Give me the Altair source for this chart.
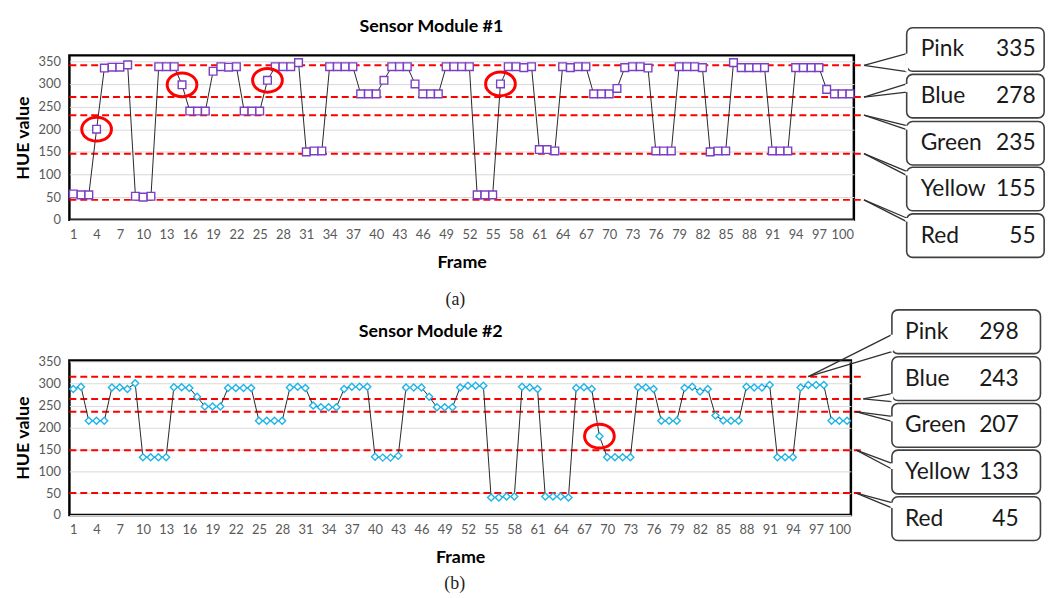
import altair as alt
import pandas as pd

# ---------------- data ----------------
frames = list(range(1, 102))

hue_1 = [57, 55, 55, 200, 335, 337, 337, 342, 52, 50,
         52, 338, 338, 338, 298, 240, 240, 240, 328, 338,
         337, 338, 240, 240, 240, 308, 338, 338, 338, 347,
         150, 152, 152, 338, 338, 338, 338, 278, 278, 278,
         308, 338, 338, 338, 300, 278, 278, 278, 338, 338,
         338, 338, 55, 55, 55, 300, 338, 338, 336, 338,
         155, 155, 152, 338, 336, 338, 338, 278, 278, 278,
         290, 336, 338, 338, 335, 152, 152, 152, 338, 338,
         338, 336, 150, 152, 152, 347, 336, 336, 336, 336,
         152, 152, 152, 336, 336, 336, 336, 288, 278, 278,
         278]

hue_2 = [288, 293, 215, 215, 215, 291, 291, 288, 301, 132,
         132, 132, 132, 292, 292, 290, 270, 248, 248, 248,
         290, 290, 290, 290, 215, 215, 215, 215, 291, 293,
         290, 250, 246, 246, 246, 288, 293, 293, 293, 133,
         131, 131, 135, 291, 291, 291, 270, 246, 246, 246,
         291, 295, 295, 295, 40, 40, 42, 42, 293, 291,
         288, 42, 42, 42, 40, 290, 292, 288, 180, 132,
         132, 132, 132, 292, 291, 288, 215, 215, 215, 290,
         293, 282, 288, 227, 216, 215, 215, 293, 291, 291,
         297, 132, 132, 132, 291, 297, 297, 297, 215, 215,
         215]

color_names = ["Pink", "Blue", "Green", "Yellow", "Red"]
ref_1 = [335, 278, 235, 155, 55]
ref_2 = [298, 243, 207, 133, 45]
level_1 = [341, 271, 231, 146, 44]     # dashed reference lines as drawn
level_2 = [316, 265, 236, 148, 50]
circled_1 = [4, 15, 26, 56]
circled_2 = [69]
x_ticks = list(range(1, 101, 3))
y_ticks = list(range(0, 351, 50))

# ---------------- layout (annotation geometry, in axis units) ----------------
lay_1 = dict(
    width=792, height=166, ymax=363, line_end=102.8,
    box_x0=108.3, box_x1=126.0, box_top=[424, 321, 217, 116, 13], box_h=96,
    tip_x=[102.8] * 5, att1=[367, 300, 208, 107, 4], att2=[327, 282, 199, 98, -4],
    name_x=110.1, val_x=124.9, label_x=50.2, label_dy=247,
    title_x=47.1, title_dy=-29,
)
lay_2 = dict(
    width=789, height=156, ymax=353, line_end=103.3,
    box_x0=106.8, box_x1=126.0, box_top=[468.6, 361.5, 254.8, 148.2, 41.6], box_h=100,
    tip_x=[96.0, 103.1, 102.1, 102.2, 102.2], att1=[412, 277, 225, 118, 28],
    att2=[373, 259, 214, 105, 16],
    name_x=108.5, val_x=123.2, label_x=50.3, label_dy=226,
    title_x=47.2, title_dy=-29,
)

FONT = "Lato"
ELLIPSE = "M -1.25 0 A 1.25 1 0 1 1 1.25 0 A 1.25 1 0 1 1 -1.25 0 Z"


def panel(hue, levels, refs, circled, title, label, lay, mcolor, mshape, msize):
    xs = alt.Scale(domain=[0.5, 101.5], nice=False, zero=False)
    ys = alt.Scale(domain=[0, lay["ymax"]], nice=False, zero=False)
    xa = alt.Axis(values=x_ticks, title="Frame", grid=False, ticks=False, domain=False,
                  labelFont=FONT, labelFontSize=13, labelColor="#595959", labelPadding=9,
                  labelFlush=False, labelOverlap=False, labelAngle=0,
                  titleFont=FONT, titleFontSize=18, titleFontWeight="bold",
                  titleColor="#000000", titlePadding=12)
    ya = alt.Axis(values=y_ticks, title="HUE value", grid=True, gridColor="#D9D9D9",
                  gridWidth=1, ticks=False, domain=False,
                  labelFont=FONT, labelFontSize=13, labelColor="#595959", labelPadding=9,
                  titleFont=FONT, titleFontSize=18, titleFontWeight="bold",
                  titleColor="#000000", titlePadding=6)

    def X(f):
        return alt.X(f"{f}:Q", scale=xs, axis=xa)

    def Y(f):
        return alt.Y(f"{f}:Q", scale=ys, axis=ya)

    df = pd.DataFrame({"frame": frames, "hue": hue})

    thr = pd.DataFrame({"level": levels, "x0": [0.5] * 5, "x1": [lay["line_end"]] * 5})
    dashed = alt.Chart(thr).mark_rule(color="#FF0000", strokeWidth=2, strokeDash=[7, 4]).encode(
        x=X("x0"), x2="x1", y=Y("level"))

    line = alt.Chart(df).mark_line(color="#262626", strokeWidth=1).encode(x=X("frame"), y=Y("hue"))
    pts = alt.Chart(df).mark_point(shape=mshape, filled=True, fill="white", stroke=mcolor,
                                   strokeWidth=1.4, size=msize, opacity=1).encode(
        x=X("frame"), y=Y("hue"))

    hl = pd.DataFrame({"frame": circled, "hue": [hue[f - 1] for f in circled]})
    rings = alt.Chart(hl).mark_point(shape=ELLIPSE, size=576, filled=False, stroke="#FF0000",
                                     strokeWidth=3, opacity=1).encode(x=X("frame"), y=Y("hue"))

    # callouts
    tops = lay["box_top"]
    cal = pd.DataFrame({
        "name": color_names, "ref": [str(r) for r in refs], "level": levels,
        "top": tops, "bot": [t - lay["box_h"] for t in tops],
        "mid": [t - lay["box_h"] / 2 for t in tops],
        "bx0": [lay["box_x0"]] * 5, "bx1": [lay["box_x1"]] * 5,
        "tip": lay["tip_x"], "a1": lay["att1"], "a2": lay["att2"],
        "nx": [lay["name_x"]] * 5, "vx": [lay["val_x"]] * 5,
    })
    seg = pd.concat([
        pd.DataFrame({"tx": cal["tip"], "ty": cal["level"], "ex": cal["bx0"], "ey": cal["a1"]}),
        pd.DataFrame({"tx": cal["tip"], "ty": cal["level"], "ex": cal["bx0"], "ey": cal["a2"]}),
    ])
    tails = alt.Chart(seg).mark_rule(color="#303030", strokeWidth=1.3).encode(
        x=X("tx"), y=Y("ty"), x2="ex", y2="ey")
    boxes = alt.Chart(cal).mark_rect(cornerRadius=6, fill="white", stroke="#404040",
                                     strokeWidth=1.6).encode(
        x=X("bx0"), x2="bx1", y=Y("top"), y2="bot")
    gaps = alt.Chart(cal).mark_rule(color="white", strokeWidth=2.6).encode(
        x=X("bx0"), y=Y("a1"), y2="a2")
    names = alt.Chart(cal).mark_text(align="left", baseline="middle", font=FONT, fontSize=23,
                                     color="#1a1a1a").encode(x=X("nx"), y=Y("mid"), text="name:N")
    vals = alt.Chart(cal).mark_text(align="right", baseline="middle", font=FONT, fontSize=23,
                                    color="#1a1a1a").encode(x=X("vx"), y=Y("mid"), text="ref:N")

    lab = alt.Chart(pd.DataFrame({"lx": [lay["label_x"]], "t": [label]})).mark_text(
        font="Liberation Serif", fontSize=18, color="#222222", baseline="middle").encode(
        x=X("lx"), y=alt.value(lay["label_dy"]), text="t:N")

    ttl = alt.Chart(pd.DataFrame({"lx": [lay["title_x"]], "t": [title]})).mark_text(
        font=FONT, fontSize=18, fontWeight="bold", color="#000000", baseline="middle").encode(
        x=X("lx"), y=alt.value(lay["title_dy"]), text="t:N")

    return alt.layer(dashed, line, pts, rings, tails, boxes, gaps, names, vals, lab, ttl).properties(
        width=lay["width"], height=lay["height"],
    )


top = panel(hue_1, level_1, ref_1, circled_1, "Sensor Module #1", "(a)", lay_1,
            "#7b3fc4", "square", 60)
bottom = panel(hue_2, level_2, ref_2, circled_2, "Sensor Module #2", "(b)", lay_2,
               "#1fb4e8", "diamond", 50)

chart = alt.vconcat(top, bottom, spacing=142, bounds="flush").properties(
    padding={"left": 5, "top": 5, "right": 0, "bottom": 0},
    background="white",
).configure_view(stroke="#000000", strokeWidth=2.5)

chart.save("out.html", embed_options={"renderer": "svg", "actions": False})
